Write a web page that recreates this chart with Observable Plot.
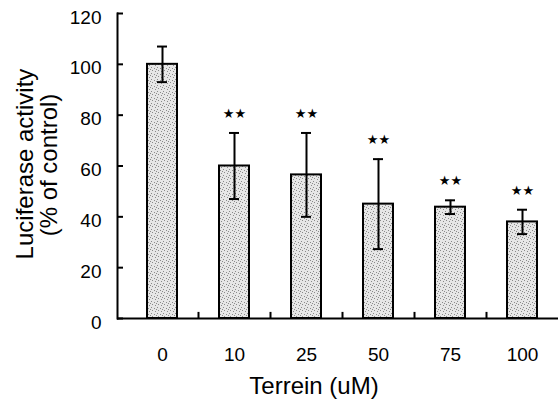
<!DOCTYPE html>
<html>
<head>
<meta charset="utf-8">
<script src="https://cdn.jsdelivr.net/npm/d3@7"></script>
<script src="https://cdn.jsdelivr.net/npm/@observablehq/plot@0.6"></script>
<style>
  html, body { margin: 0; padding: 0; background: #fff; }
  svg { display: block; }
</style>
</head>
<body>
<div id="chart"></div>
<script>
const doses = ["0", "10", "25", "50", "75", "100"];
const means = [100, 60, 56.5, 45, 43.8, 38];
const errors = [7, 13, 16.5, 17.7, 2.7, 4.8];
const significant = [false, true, true, true, true, true];
const yTicks = [0, 20, 40, 60, 80, 100, 120];

const data = doses.map((d, i) => ({
  dose: d, mean: means[i], lo: means[i] - errors[i], hi: means[i] + errors[i], sig: significant[i]
}));

const font = "'Liberation Sans', Arial, Helvetica, sans-serif";

const chart = Plot.plot({
  width: 558,
  height: 400,
  marginLeft: 117,
  marginRight: 0,
  marginTop: 13,
  marginBottom: 82,
  style: { fontFamily: font, background: "#fff", color: "#000" },
  x: { domain: doses, range: [126, 558], paddingInner: 0.58, paddingOuter: 0.29, axis: null },
  y: { domain: [0, 120], range: [318, 13], axis: null },
  marks: [
    Plot.barY(data, { x: "dose", y: "mean", fill: "url(#stipple)", stroke: "#000", strokeWidth: 2 }),
    Plot.ruleX(data, { x: "dose", y1: "lo", y2: "hi", stroke: "#000", strokeWidth: 2 }),
    Plot.tickY(data, { x: "dose", y: "hi", stroke: "#000", strokeWidth: 2, insetLeft: 10, insetRight: 10 }),
    Plot.tickY(data, { x: "dose", y: "lo", stroke: "#000", strokeWidth: 2, insetLeft: 10, insetRight: 10 }),
    Plot.text(data.filter(d => d.sig), { x: "dose", y: "hi", text: () => "★★", dy: -19, lineAnchor: "middle", fontSize: 13, fontFamily: "'DejaVu Sans', sans-serif", fill: "#000" }),
    Plot.frame({ anchor: "left", stroke: "#000", strokeWidth: 2 }),
    Plot.ruleY([0], { stroke: "#000", strokeWidth: 2 }),
    Plot.axisY({ ticks: yTicks, tickSize: 6, dx: 6, text: null, stroke: "#000", strokeWidth: 2, strokeOpacity: 1 }),
    Plot.axisY({ ticks: yTicks, tickSize: 0, tickPadding: 16, dy: 4, fontSize: 19, label: null, fill: "#000" }),
    Plot.ruleX(doses.slice(1), { x: d => d, dx: -36, y1: 0, y2: 2.4, stroke: "#000", strokeWidth: 2 }),
    Plot.axisX({ tickSize: 0, tickPadding: 29, fontSize: 19, label: null, fill: "#000" }),
    Plot.text(["Terrein (uM)"], { frameAnchor: "bottom", dx: -24, dy: 68, lineAnchor: "middle", textAnchor: "middle", text: d => d, fontSize: 24, fill: "#000" }),
    Plot.text(["Luciferase activity"], { frameAnchor: "left", dx: -92, dy: -2, rotate: -90, textAnchor: "middle", lineAnchor: "middle", text: d => d, fontSize: 24, fill: "#000" }),
    Plot.text(["(% of control)"], { frameAnchor: "left", dx: -68, dy: -1, rotate: -90, textAnchor: "middle", lineAnchor: "middle", text: d => d, fontSize: 24, fill: "#000" })
  ]
});

// stippled fill pattern
const svg = d3.select(chart);
const defs = svg.insert("defs", ":first-child");
const pat = defs.append("pattern")
  .attr("id", "stipple").attr("patternUnits", "userSpaceOnUse")
  .attr("width", 6).attr("height", 6);
pat.append("rect").attr("width", 6).attr("height", 6).attr("fill", "#e6e6e6");
[[1,1],[4,2],[2,4],[5,5],[0,3]].forEach(([x, y]) =>
  pat.append("rect").attr("x", x).attr("y", y).attr("width", 1).attr("height", 1).attr("fill", "#8a8a8a"));

document.getElementById("chart").append(chart);
</script>
</body>
</html>
